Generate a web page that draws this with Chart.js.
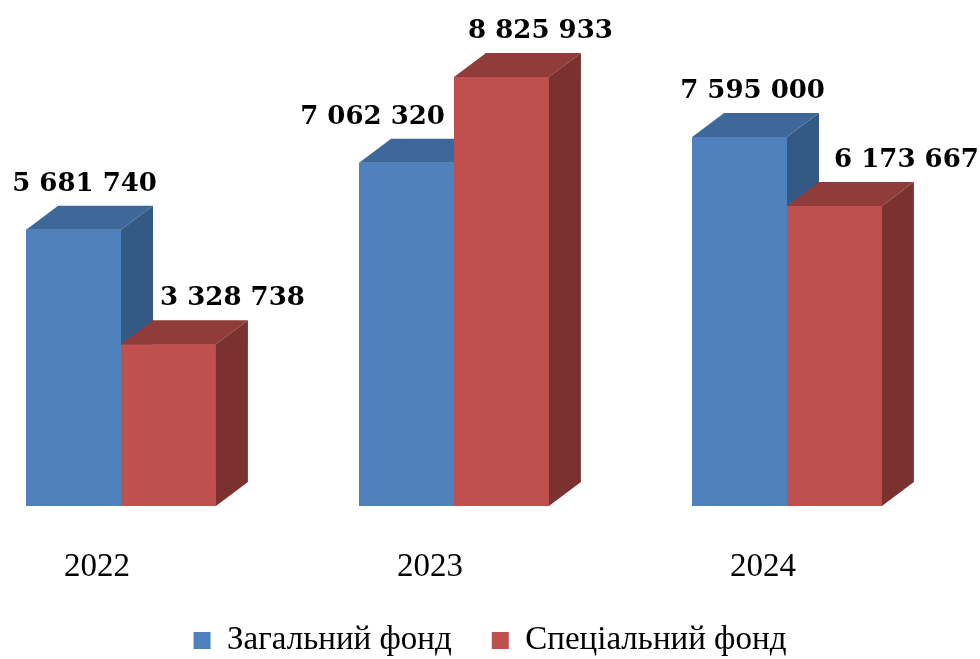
<!DOCTYPE html>
<html>
<head>
<meta charset="utf-8">
<script src="https://cdn.jsdelivr.net/npm/chart.js@4.4.1/dist/chart.umd.min.js"></script>
<style>
  html, body { margin: 0; padding: 0; background: #fff; }
  #wrap { width: 980px; height: 659px; }
</style>
</head>
<body>
<div id="wrap"><canvas id="fundChart"></canvas></div>
<script>
// data
const years = ['2022', '2023', '2024'];
const generalFund = [5681740, 7062320, 7595000];
const specialFund = [3328738, 8825933, 6173667];
const seriesNames = ['Загальний фонд', 'Спеціальний фонд'];

// where each value label sits relative to its bar (style only)
const labelShift = [[11, -34, 13], [64, 39, 72]];

const faceColors = [
  { front: '#4F81BD', top: '#3D6899', side: '#345984' },
  { front: '#C0504D', top: '#8F3C3A', side: '#7A312F' }
];
const depthX = 32, depthY = 24;

function fmt(v) {
  return String(v).replace(/\B(?=(\d{3})+(?!\d))/g, ' ');
}

// redraws each series in order with its top and side faces,
// so the second series covers the side of the first
const bars3d = {
  id: 'bars3d',
  afterDatasetsDraw(chart) {
    const ctx = chart.ctx;
    chart.data.datasets.forEach((ds, di) => {
      const cols = faceColors[di];
      chart.getDatasetMeta(di).data.forEach(bar => {
        bar.draw(ctx);
        const l = bar.x - bar.width / 2, r = bar.x + bar.width / 2;
        ctx.save();
        ctx.fillStyle = cols.top;
        ctx.beginPath();
        ctx.moveTo(l, bar.y);
        ctx.lineTo(l + depthX, bar.y - depthY);
        ctx.lineTo(r + depthX, bar.y - depthY);
        ctx.lineTo(r, bar.y);
        ctx.closePath();
        ctx.fill();
        ctx.fillStyle = cols.side;
        ctx.beginPath();
        ctx.moveTo(r, bar.y);
        ctx.lineTo(r + depthX, bar.y - depthY);
        ctx.lineTo(r + depthX, bar.base - depthY);
        ctx.lineTo(r, bar.base);
        ctx.closePath();
        ctx.fill();
        ctx.restore();
      });
    });

    ctx.save();
    ctx.font = 'bold 26px "DejaVu Serif"';
    ctx.fillStyle = '#000';
    ctx.textAlign = 'center';
    ctx.textBaseline = 'alphabetic';
    chart.data.datasets.forEach((ds, di) => {
      chart.getDatasetMeta(di).data.forEach((bar, i) => {
        ctx.fillText(fmt(ds.data[i].y), bar.x + labelShift[di][i], bar.y - depthY - 15);
      });
    });
    ctx.restore();
  }
};

const ctx = document.getElementById('fundChart').getContext('2d');
new Chart(ctx, {
  type: 'bar',
  data: {
    datasets: [{
      label: seriesNames[0],
      data: generalFund.map((v, i) => ({ x: i, y: v })),
      backgroundColor: faceColors[0].front
    }, {
      label: seriesNames[1],
      data: specialFund.map((v, i) => ({ x: i, y: v })),
      backgroundColor: faceColors[1].front
    }]
  },
  options: {
    responsive: true,
    maintainAspectRatio: false,
    animation: false,
    categoryPercentage: 0.57,
    barPercentage: 1,
    layout: { padding: { top: 20, left: 0, right: 0, bottom: 0 } },
    scales: {
      x: {
        type: 'linear',
        offset: false,
        min: -0.3634,
        max: 2.5796,
        grid: { display: false, drawTicks: false, offset: false },
        border: { display: false },
        afterBuildTicks: s => { s.ticks = years.map((y, i) => ({ value: i })); },
        afterFit: s => { s.height = 78; },
        ticks: {
          padding: 42,
          labelOffset: -24,
          color: '#000',
          font: { family: '"Liberation Serif"', size: 33 },
          callback: v => years[v]
        }
      },
      y: {
        display: false,
        min: 0,
        max: 10000000
      }
    },
    plugins: {
      legend: {
        position: 'bottom',
        maxHeight: 75,
        labels: {
          boxWidth: 17,
          boxHeight: 17,
          padding: 40,
          color: '#000',
          font: { family: '"Liberation Serif"', size: 33 }
        }
      },
      tooltip: { enabled: false }
    }
  },
  plugins: [bars3d]
});
</script>
</body>
</html>
